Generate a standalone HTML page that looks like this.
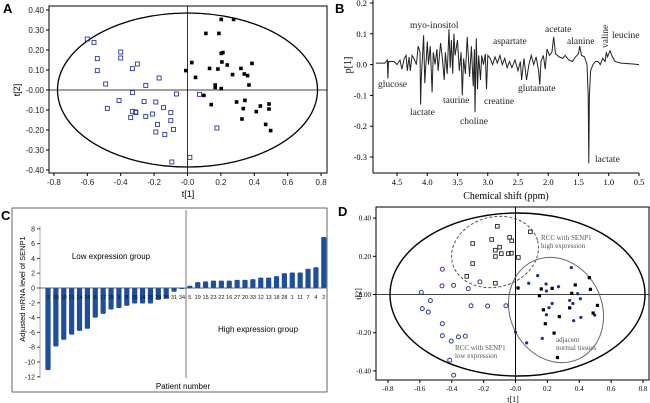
<!DOCTYPE html>
<html><head><meta charset="utf-8">
<style>
body{margin:0;background:#fff;}
svg{display:block;font-family:"Liberation Sans",sans-serif;}
.serif{font-family:"Liberation Serif",serif;}
</style></head>
<body>
<svg id="fig" width="650" height="403" viewBox="0 0 650 403" xmlns="http://www.w3.org/2000/svg">
  <text x="3" y="13" font-size="13" font-weight="bold">A</text>
  <text x="335" y="13" font-size="13" font-weight="bold">B</text>
  <text x="1" y="220" font-size="13" font-weight="bold">C</text>
  <text x="338" y="216" font-size="13" font-weight="bold">D</text>
  <g id="pa"></g>
  <g id="pb"></g>
  <g id="pc"></g>
  <g id="pd"></g>
</svg>
<script>
// ---------- Panel A data ----------
const aOpenX=[-0.60,-0.56,-0.54,-0.54,-0.49,-0.40,-0.40,-0.30,-0.33,-0.17,-0.25,-0.33,-0.066,0.072,-0.41,-0.48,-0.33,-0.31,-0.31,-0.34,-0.26,-0.19,-0.144,-0.21,-0.25,-0.10,-0.10,-0.18,-0.084,-0.19,-0.136,0.176,0.014,-0.094];
const aOpenY=[0.255,0.238,0.157,0.097,0.03,0.19,0.16,0.13,0.107,0.06,0.023,-0.013,-0.02,-0.022,-0.053,-0.092,-0.107,-0.11,-0.113,-0.138,-0.058,-0.06,-0.088,-0.12,-0.132,-0.113,-0.153,-0.172,-0.197,-0.21,-0.223,-0.19,-0.337,-0.36];
const aFillX=[0.202,0.276,0.11,0.188,0.202,0.212,0.026,0.206,0.238,0.132,0.182,0.32,0.386,-0.01,0.048,0.27,0.34,0.36,0.166,0.166,0.368,0.202,0.098,0.142,0.294,0.344,0.334,0.436,0.488,0.488,0.412,0.326,0.468,0.498];
const aFillY=[0.353,0.353,0.283,0.283,0.183,0.187,0.137,0.14,0.125,0.108,0.105,0.108,0.133,0.097,0.063,0.077,0.08,0.072,0.025,0.013,0.025,0.007,-0.027,-0.073,-0.06,-0.052,-0.093,-0.08,-0.07,-0.095,-0.108,-0.145,-0.172,-0.203];
const scoreTicksX=["-0.8","-0.6","-0.4","-0.2","-0.0","0.2","0.4","0.6","0.8"];
const aTicksY=["0.40","0.30","0.20","0.10","-0.00","-0.10","-0.20","-0.30","-0.40"];
// ---------- Panel B data ----------
const bPpm=[4.85,4.7,4.66,4.65,4.64,4.55,4.5,4.45,4.42,4.38,4.35,4.33,4.3,4.28,4.25,4.22,4.18,4.15,4.12,4.11,4.1,4.08,4.06,4.04,4.0,3.98,3.95,3.92,3.9,3.87,3.84,3.82,3.78,3.75,3.72,3.7,3.67,3.64,3.62,3.6,3.58,3.56,3.54,3.5,3.47,3.44,3.42,3.4,3.37,3.34,3.3,3.27,3.24,3.22,3.21,3.19,3.17,3.15,3.12,3.1,3.07,3.04,3.02,3.0,2.96,2.92,2.88,2.84,2.8,2.76,2.72,2.68,2.64,2.6,2.55,2.5,2.46,2.44,2.4,2.36,2.32,2.28,2.24,2.2,2.16,2.14,2.12,2.08,2.05,2.02,1.98,1.94,1.91,1.88,1.82,1.76,1.72,1.66,1.6,1.55,1.5,1.48,1.45,1.4,1.36,1.34,1.33,1.32,1.3,1.26,1.22,1.18,1.14,1.1,1.06,1.04,1.02,0.98,0.95,0.9,0.8,0.6,0.5];
const bVal=[0.005,0.005,0.015,-0.045,0.01,0.01,0.0,0.015,-0.015,0.02,0.03,-0.02,0.025,-0.02,0.03,0.02,0.0,0.06,0.04,-0.13,-0.05,0.02,0.095,-0.06,0.075,0.0,0.06,-0.09,0.04,0.0,0.05,-0.02,0.07,0.02,-0.05,0.04,-0.03,0.115,-0.01,0.08,-0.03,0.1,0.03,0.08,-0.02,0.04,-0.1,0.02,-0.03,0.09,-0.04,0.06,-0.07,0.05,-0.155,0.085,-0.08,0.03,-0.05,0.03,0.0,0.035,-0.08,0.03,0.02,0.0,0.025,0.005,0.03,0.0,0.02,-0.01,0.01,-0.01,0.015,-0.02,0.01,-0.05,0.02,-0.05,0.0,0.03,0.0,0.025,-0.02,-0.065,0.01,0.03,-0.015,0.05,0.03,0.04,0.09,0.035,0.025,0.02,0.03,0.015,0.01,0.025,0.035,0.06,0.03,0.025,0.0,-0.1,-0.32,-0.1,-0.02,0.0,0.01,0.01,0.0,0.02,0.01,0.04,0.025,0.045,0.03,0.01,0.005,0.002,0.0];
const bTicksX=["4.5","4.0","3.5","3.0","2.5","2.0","1.5","1.0","0.5"];
const bTicksY=["0.2","0.1","0.0","-0.1","-0.2","-0.3"];
// ---------- Panel C data ----------
const cPatients=["3","30","10","21","24","26","6","17","28","9","8","35","14","25","29","36","31","34","5","19","15","23","22","16","27","20","33","12","13","18","28","1","11","7","4","2"];
const cValues=[-11.1,-7.9,-7.0,-6.3,-5.8,-5.5,-4.0,-3.5,-2.9,-2.7,-2.4,-2.1,-2.1,-2.1,-1.6,-1.4,-0.5,-0.1,0.3,0.8,0.9,1.0,1.0,1.0,1.1,1.1,1.2,1.4,1.4,1.6,2.0,2.1,2.1,2.6,2.8,6.9];
const cTicksY=[8,6,4,2,0,-2,-4,-6,-8,-10,-12];
// ---------- Panel D data ----------
const dHighX=[-0.114,-0.15,-0.10,-0.126,-0.089,-0.126,-0.037,-0.024,-0.045,-0.026,0.093,0.018,-0.269,-0.269,-0.306,-0.126];
const dHighY=[0.357,0.288,0.248,0.232,0.214,0.199,0.299,0.281,0.214,0.216,0.328,0.194,0.267,0.162,0.095,0.059];
const dLowX=[-0.459,-0.461,-0.388,-0.296,-0.223,-0.591,-0.534,-0.585,-0.547,-0.279,-0.175,-0.060,-0.459,-0.459,-0.403,-0.358,-0.315,-0.413,-0.388];
const dLowY=[0.132,0.045,0.048,0.031,0.066,0.011,-0.032,-0.074,-0.092,-0.059,-0.06,-0.059,-0.153,-0.216,-0.244,-0.222,-0.218,-0.344,-0.423];
const dAdjBlueX=[0.139,0.083,0.192,0.194,0.27,0.35,0.39,0.407,0.34,0.36,0.23,0.21,0.194,0.365,0.41,0.497,0.0,0.168,0.07];
const dAdjBlueY=[0.099,0.059,0.055,0.018,0.041,0.141,0.004,-0.022,-0.031,-0.047,-0.047,-0.069,-0.106,-0.137,-0.12,-0.108,-0.197,-0.23,-0.253];
const dAdjBlackX=[0.016,0.162,0.15,0.23,0.375,0.353,0.463,0.47,0.175,0.187,0.275,0.34,0.514,0.487,0.242,0.263];
const dAdjBlackY=[0.034,0.029,-0.006,0.032,0.05,0.006,0.088,0.027,-0.08,-0.153,-0.116,-0.07,-0.057,-0.097,-0.202,-0.33];
const dTicksY=["0.40","0.20","-0.00","-0.20","-0.40"];

const NS="http://www.w3.org/2000/svg";
function mk(parent,tag,attrs,txt){const e=document.createElementNS(NS,tag);for(const k in attrs)e.setAttribute(k,attrs[k]);if(txt!==undefined)e.textContent=txt;parent.appendChild(e);return e;}
const blue="#2b3a9a";

// ===== Panel A =====
(function(){
  const g=document.getElementById('pa');
  const xs=v=>187.5+v*167, ys=v=>90-v*200;
  const fr=mk(g,'rect',{x:49,y:6,width:278,height:167,fill:'none',stroke:'#000','stroke-width':1});
  
  
  const el=mk(g,'ellipse',{cx:187.5,cy:90,rx:130,ry:77,fill:'none',stroke:'#000','stroke-width':1.3});
  
  
  mk(g,'line',{x1:49,x2:327,y1:ys(0),y2:ys(0),stroke:'#000','stroke-width':0.8});
  mk(g,'line',{x1:xs(0),x2:xs(0),y1:6,y2:173,stroke:'#000','stroke-width':0.8});
  scoreTicksX.forEach((t,i)=>{const v=-0.8+i*0.2;const x=xs(v);
    mk(g,'line',{x1:x,x2:x,y1:173,y2:176,stroke:'#000'});
    const tx=mk(g,'text',{x:x,y:185,'font-size':8,'text-anchor':'middle',fill:'#222'},t);
    
    });
  aTicksY.forEach((t,i)=>{const v=0.4-i*0.1;const y=ys(v);
    mk(g,'line',{x1:46,x2:49,y1:y,y2:y,stroke:'#000'});
    const tx=mk(g,'text',{x:44,y:y+3,'font-size':8,'text-anchor':'end',fill:'#222'},t);
    
    });
  const xt=mk(g,'text',{x:188,y:197,'font-size':9,'text-anchor':'middle'},'t[1]');
  
  
  const yt=mk(g,'text',{x:0,y:0,'font-size':9,'text-anchor':'middle',transform:'translate(20,90) rotate(-90)'},'t[2]');
  
  
  aOpenX.forEach((v,i)=>{const r=mk(g,'rect',{x:xs(v)-2,y:ys(aOpenY[i])-2,width:4,height:4,fill:'none',stroke:blue,'stroke-width':0.9});
    
    });
  aFillX.forEach((v,i)=>{const r=mk(g,'rect',{x:xs(v)-1.8,y:ys(aFillY[i])-1.8,width:3.6,height:3.6,fill:'#000'});
    
    });
})();

// ===== Panel B =====
(function(){
  const g=document.getElementById('pb');
  const xs=p=>397+(4.5-p)/0.5*30.25, ys=v=>64.6-v*308;
  mk(g,'line',{x1:373,x2:373,y1:0,y2:173,stroke:'#000'});
  mk(g,'line',{x1:373,x2:639,y1:173,y2:173,stroke:'#000'});
  bTicksX.forEach((t,i)=>{const p=4.5-i*0.5;const x=xs(p);
    mk(g,'line',{x1:x,x2:x,y1:173,y2:176,stroke:'#000'});
    const tx=mk(g,'text',{x:x,y:185,'font-size':8.5,'text-anchor':'middle',class:'serif'},t);
    
    });
  bTicksY.forEach((t,i)=>{const v=0.2-i*0.1;const y=ys(v);
    mk(g,'line',{x1:370,x2:373,y1:y,y2:y,stroke:'#000'});
    const tx=mk(g,'text',{x:367,y:y+3,'font-size':8.5,'text-anchor':'end',class:'serif'},t);
    
    });
  const d=bPpm.map((p,i)=>(i?'L':'M')+xs(p).toFixed(1)+','+ys(bVal[i]).toFixed(1)).join('');
  const ln=mk(g,'path',{d:d,fill:'none',stroke:'#222','stroke-width':1});
  
  
  const xt=mk(g,'text',{x:506,y:199,'font-size':10,'text-anchor':'middle',class:'serif'},'Chemical shift (ppm)');
  
  
  const yt=mk(g,'text',{x:0,y:0,'font-size':10,'text-anchor':'middle',class:'serif',transform:'translate(351,65) rotate(-90)'},'p[1]');
  
  
  const labs=[["myo-inositol",410,28],["glucose",378,87],["lactate",410,115],["taurine",443,103],["choline",460,124],["creatine",484,104],["aspartate",493,44],["glutamate",518,91],["acetate",545,32],["alanine",567,44],["leucine",612,38],["lactate",595,162]];
  labs.forEach(l=>{const t=mk(g,'text',{x:l[1],y:l[2],'font-size':9.5,class:'serif',fill:'#222'},l[0]);
    
    });
  const v=mk(g,'text',{x:0,y:0,'font-size':9.5,class:'serif',fill:'#222',transform:'translate(608,48) rotate(-90)'},'valine');
  
  
})();

// ===== Panel C =====
(function(){
  const g=document.getElementById('pc');
  const ys=v=>288-v*7.4, xs=i=>48+i*7.88;
  const fr=mk(g,'rect',{x:12,y:208,width:315,height:184,fill:'none',stroke:'#666','stroke-width':1});
  
  
  mk(g,'line',{x1:40,x2:40,y1:226,y2:378,stroke:'#aaa'});
  cTicksY.forEach(v=>{const y=ys(v);
    mk(g,'line',{x1:37,x2:40,y1:y,y2:y,stroke:'#444'});
    const t=mk(g,'text',{x:35,y:y+2.5,'font-size':7,'text-anchor':'end',fill:'#222'},String(v));
    
    });
  mk(g,'line',{x1:40,x2:326,y1:ys(0),y2:ys(0),stroke:'#666'});
  cValues.forEach((v,i)=>{const x=xs(i);const y0=ys(0),y1=ys(v);
    const b=mk(g,'rect',{x:x-2.6,y:Math.min(y0,y1),width:5.2,height:Math.max(1,Math.abs(y1-y0)),fill:'#1f4e9c',rx:1});
    
    
    const t=mk(g,'text',{x:x,y:y0+11,'font-size':5.5,'text-anchor':'middle',fill:'#111'},cPatients[i]);
    
    });
  mk(g,'line',{x1:186,x2:186,y1:210,y2:378,stroke:'#777'});
  const l1=mk(g,'text',{x:111,y:259,'font-size':8,'text-anchor':'middle'},'Low expression group');
  
  
  const l2=mk(g,'text',{x:258,y:332,'font-size':8,'text-anchor':'middle'},'High expression group');
  
  
  const xt=mk(g,'text',{x:183,y:389,'font-size':8,'text-anchor':'middle'},'Patient number');
  
  
  const yt=mk(g,'text',{x:0,y:0,'font-size':7.5,'text-anchor':'middle',transform:'translate(25,289) rotate(-90)'},'Adjusted mRNA level of SENP1');
  
  
})();

// ===== Panel D =====
(function(){
  const g=document.getElementById('pd');
  const xs=v=>515.5+v*159.4, ys=v=>294.5-v*191;
  const fr=mk(g,'rect',{x:376,y:207,width:273,height:173,fill:'none',stroke:'#000','stroke-width':1});
  
  
  const el=mk(g,'ellipse',{cx:517.5,cy:294.5,rx:127.5,ry:81.5,fill:'none',stroke:'#000','stroke-width':1.4});
  
  
  mk(g,'line',{x1:376,x2:649,y1:ys(0),y2:ys(0),stroke:'#000','stroke-width':0.8});
  mk(g,'line',{x1:xs(0),x2:xs(0),y1:207,y2:380,stroke:'#000','stroke-width':1});
  const e1=mk(g,'ellipse',{cx:495,cy:252,rx:44,ry:35,fill:'none',stroke:'#555','stroke-dasharray':'3,2',transform:'rotate(-15 495 252)'});
  
  
  const e2=mk(g,'ellipse',{cx:556,cy:310,rx:46,ry:54,fill:'none',stroke:'#666',transform:'rotate(-25 556 310)'});
  
  
  scoreTicksX.forEach((t,i)=>{const v=-0.8+i*0.2;const x=xs(v);
    mk(g,'line',{x1:x,x2:x,y1:380,y2:383,stroke:'#000'});
    const tx=mk(g,'text',{x:x,y:391,'font-size':7,'text-anchor':'middle',class:'serif'},t);
    
    });
  dTicksY.forEach((t,i)=>{const v=0.4-i*0.2;const y=ys(v);
    mk(g,'line',{x1:373,x2:376,y1:y,y2:y,stroke:'#000'});
    const tx=mk(g,'text',{x:371,y:y+2.5,'font-size':7,'text-anchor':'end',class:'serif'},t);
    
    });
  const xt=mk(g,'text',{x:513,y:402,'font-size':8,'text-anchor':'middle',class:'serif'},'t[1]');
  
  
  const yt=mk(g,'text',{x:0,y:0,'font-size':8,'text-anchor':'middle',class:'serif',transform:'translate(361,294) rotate(-90)'},'t[2]');
  
  
  dHighX.forEach((v,i)=>{const r=mk(g,'rect',{x:xs(v)-1.8,y:ys(dHighY[i])-1.8,width:3.6,height:3.6,fill:'none',stroke:'#222','stroke-width':0.9});
    
    });
  dLowX.forEach((v,i)=>{const c=mk(g,'circle',{cx:xs(v),cy:ys(dLowY[i]),r:2,fill:'none',stroke:blue,'stroke-width':1});
    
    });
  dAdjBlueX.forEach((v,i)=>{const c=mk(g,'circle',{cx:xs(v),cy:ys(dAdjBlueY[i]),r:1.6,fill:'#1a2e9a'});
    
    });
  dAdjBlackX.forEach((v,i)=>{const r=mk(g,'rect',{x:xs(v)-1.6,y:ys(dAdjBlackY[i])-1.6,width:3.2,height:3.2,fill:'#000'});
    
    });
  const labs=[["RCC with SENP1",541,240],["high expression",541,248],["adjacent",556,342],["normal  tissues",556,350],["RCC with SENP1",455,350],["low expression",455,358]];
  labs.forEach(l=>{const t=mk(g,'text',{x:l[1],y:l[2],'font-size':7,class:'serif',fill:'#555'},l[0]);
    
    });
})();
</script>
</body></html>
